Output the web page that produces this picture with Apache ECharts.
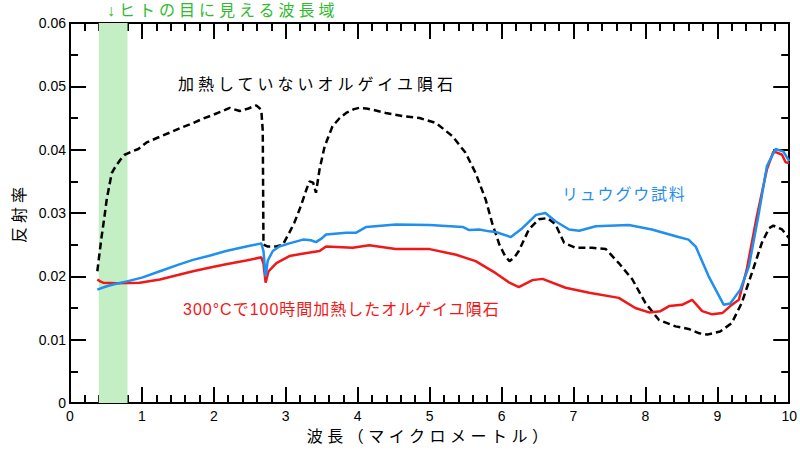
<!DOCTYPE html>
<html>
<head>
<meta charset="utf-8">
<script src="https://cdn.jsdelivr.net/npm/echarts@6/dist/echarts.min.js"></script>
<style>
html,body{margin:0;padding:0;background:#fff;}
#chart{width:800px;height:450px;}
</style>
</head>
<body>
<div id="chart"></div>
<script>
// ---- data ----
const unheatedWavelength = [0.38,0.41,0.44,0.48,0.51,0.55,0.58,0.62,0.65,0.70,0.76,0.82,0.86,0.95,1.06,1.20,1.39,1.55,1.71,1.85,1.99,2.10,2.22,2.36,2.48,2.59,2.66,2.68,2.69,2.75,2.87,2.96,3.05,3.12,3.19,3.24,3.29,3.33,3.38,3.42,3.47,3.54,3.65,3.75,3.84,3.95,4.02,4.12,4.21,4.39,4.62,4.86,5.09,5.32,5.50,5.64,5.78,5.87,5.97,6.05,6.11,6.18,6.24,6.38,6.52,6.64,6.75,6.87,7.03,7.26,7.45,7.63,7.82,8.00,8.19,8.42,8.60,8.75,8.86,9.04,9.20,9.34,9.48,9.62,9.72,9.78,9.90,10.0];
const unheatedReflectance = [0.0208,0.0236,0.0263,0.0295,0.0321,0.0345,0.0363,0.0371,0.0376,0.0384,0.0392,0.0395,0.0397,0.0401,0.0411,0.0418,0.0427,0.0435,0.0442,0.0449,0.0455,0.0460,0.0466,0.0461,0.0465,0.0470,0.0463,0.0430,0.0250,0.0247,0.0247,0.0250,0.0269,0.0285,0.0305,0.0321,0.0338,0.0350,0.0348,0.0332,0.0369,0.0405,0.0437,0.0450,0.0458,0.0464,0.0466,0.0465,0.0463,0.0458,0.0453,0.0450,0.0442,0.0421,0.0395,0.0363,0.0321,0.0284,0.0250,0.0232,0.0224,0.0230,0.0240,0.0274,0.0290,0.0292,0.0282,0.0253,0.0245,0.0245,0.0243,0.0221,0.0195,0.0158,0.0131,0.0121,0.0117,0.0110,0.0108,0.0113,0.0126,0.0158,0.0205,0.0253,0.0276,0.0280,0.0274,0.0260];

const ryuguWavelength = [0.38,0.50,0.60,0.79,1.00,1.25,1.50,1.71,1.95,2.17,2.45,2.66,2.69,2.72,2.75,2.82,2.91,3.05,3.24,3.35,3.42,3.50,3.56,3.84,3.98,4.12,4.53,5.00,5.46,5.55,5.69,5.83,5.92,6.13,6.29,6.48,6.61,6.75,6.94,7.08,7.31,7.77,8.09,8.46,8.60,8.70,8.88,9.09,9.18,9.32,9.44,9.57,9.69,9.81,9.92,10.0];
const ryuguReflectance = [0.0179,0.0184,0.0187,0.0192,0.0198,0.0208,0.0218,0.0226,0.0233,0.0240,0.0247,0.0252,0.0240,0.0200,0.0225,0.0240,0.0247,0.0252,0.0258,0.0257,0.0254,0.0260,0.0266,0.0269,0.0269,0.0278,0.0282,0.0281,0.0278,0.0273,0.0274,0.0271,0.0270,0.0262,0.0276,0.0297,0.0300,0.0287,0.0274,0.0272,0.0279,0.0281,0.0274,0.0262,0.0258,0.0247,0.0200,0.0155,0.0157,0.0179,0.0216,0.0295,0.0374,0.0401,0.0397,0.0382];

const heatedWavelength = [0.38,0.42,0.46,0.65,0.97,1.25,1.50,1.71,1.95,2.17,2.45,2.66,2.69,2.72,2.76,2.87,3.05,3.25,3.47,3.56,3.93,4.16,4.53,5.00,5.37,5.64,5.92,6.11,6.24,6.43,6.57,6.89,7.22,7.63,7.86,8.05,8.21,8.33,8.51,8.65,8.79,8.93,9.07,9.18,9.30,9.41,9.55,9.69,9.78,9.84,9.90,9.95,10.0];
const heatedReflectance = [0.0195,0.0192,0.0190,0.0189,0.0190,0.0195,0.0202,0.0208,0.0214,0.0219,0.0225,0.0230,0.0220,0.0190,0.0208,0.0221,0.0232,0.0236,0.0240,0.0247,0.0245,0.0249,0.0243,0.0243,0.0234,0.0224,0.0205,0.0190,0.0183,0.0194,0.0196,0.0182,0.0174,0.0166,0.0150,0.0143,0.0145,0.0153,0.0155,0.0163,0.0145,0.0140,0.0142,0.0153,0.0163,0.0211,0.0295,0.0369,0.0397,0.0395,0.0392,0.0380,0.0379];

const visibleBand = [0.4, 0.8];
const xTicks = [0,1,2,3,4,5,6,7,8,9,10];
const yTicks = [0,0.01,0.02,0.03,0.04,0.05,0.06];

const labelUnheated = '加熱していないオルゲイユ隕石';
const labelRyugu = 'リュウグウ試料';
const labelHeated = '300°Cで100時間加熱したオルゲイユ隕石';
const labelVisible = '↓ヒトの目に見える波長域';
const xName = '波長（マイクロメートル）';
const yName = '反射率';

// ---- chart ----
const zip = (xs, ys) => xs.map((x, i) => [x, ys[i]]);
const FONT = "'Liberation Sans', 'Noto Sans CJK JP', sans-serif";
const chart = echarts.init(document.getElementById('chart'), null, {renderer: 'svg'});

const axisCommon = {
  axisLine: {show: true, onZero: false, lineStyle: {color: '#000', width: 2}},
  axisTick: {show: true, inside: true, length: 16, lineStyle: {color: '#000', width: 2}},
  minorTick: {show: true, length: 8, lineStyle: {color: '#000', width: 2}},
  splitLine: {show: false}
};

chart.setOption({
  animation: false,
  backgroundColor: '#fff',
  textStyle: {fontFamily: FONT},
  grid: {left: 70, right: 9, top: 23, bottom: 47, containLabel: false},
  xAxis: [
    Object.assign({}, axisCommon, {
      type: 'value', min: xTicks[0], max: xTicks[xTicks.length - 1], interval: 1, position: 'bottom',
      minorTick: Object.assign({}, axisCommon.minorTick, {splitNumber: 5}),
      axisLabel: {color: '#000', fontSize: 14, margin: 6, fontFamily: FONT},
      name: xName, nameLocation: 'middle', nameGap: 25,
      nameTextStyle: {color: '#000', fontSize: 16, fontFamily: FONT}
    }),
    Object.assign({}, axisCommon, {
      type: 'value', min: xTicks[0], max: xTicks[xTicks.length - 1], interval: 1, position: 'top',
      minorTick: Object.assign({}, axisCommon.minorTick, {splitNumber: 5}),
      axisLabel: {show: false}
    })
  ],
  yAxis: [
    Object.assign({}, axisCommon, {
      type: 'value', min: yTicks[0], max: yTicks[yTicks.length - 1], interval: 0.01, position: 'left',
      minorTick: Object.assign({}, axisCommon.minorTick, {splitNumber: 2}),
      axisLabel: {color: '#000', fontSize: 14, margin: 4, fontFamily: FONT,
        formatter: v => (Math.abs(v) < 1e-9 ? '0' : v.toFixed(2))},
      name: yName, nameLocation: 'middle', nameGap: 43, nameRotate: 90,
      nameTextStyle: {color: '#000', fontSize: 16, fontFamily: FONT}
    }),
    Object.assign({}, axisCommon, {
      type: 'value', min: yTicks[0], max: yTicks[yTicks.length - 1], interval: 0.01, position: 'right',
      minorTick: Object.assign({}, axisCommon.minorTick, {splitNumber: 2}),
      axisLabel: {show: false}
    })
  ],
  series: [
    {
      name: labelUnheated, type: 'line', xAxisIndex: 0, yAxisIndex: 0,
      data: zip(unheatedWavelength, unheatedReflectance),
      showSymbol: false, z: 3,
      lineStyle: {color: '#000', width: 2.5, type: [7, 4]},
      markArea: {
        silent: true,
        itemStyle: {color: '#c4eec4'},
        data: [[{xAxis: visibleBand[0]}, {xAxis: visibleBand[1]}]]
      }
    },
    {
      name: labelHeated, type: 'line', xAxisIndex: 0, yAxisIndex: 0,
      data: zip(heatedWavelength, heatedReflectance),
      showSymbol: false, z: 4,
      lineStyle: {color: '#f01818', width: 2.5}
    },
    {
      name: labelRyugu, type: 'line', xAxisIndex: 0, yAxisIndex: 0,
      data: zip(ryuguWavelength, ryuguReflectance),
      showSymbol: false, z: 5,
      lineStyle: {color: '#1f8ff0', width: 2.5}
    }
  ],
  graphic: [
    {type: 'text', left: 107, top: 2, style: {text: labelVisible, fill: '#2fbb2f', font: "16px " + FONT}},
    {type: 'text', left: 178, top: 76, style: {text: labelUnheated, fill: '#000', font: "16px " + FONT}},
    {type: 'text', left: 562, top: 186, style: {text: labelRyugu, fill: '#1f8ff0', font: "16px " + FONT}},
    {type: 'text', left: 183, top: 301, style: {text: labelHeated, fill: '#f01818', font: "16px " + FONT}}
  ]
});

// letter spacing of the wide-set Japanese labels
const spacing = {};
spacing[labelVisible] = 4;
spacing[labelUnheated] = 4;
spacing[labelRyugu] = 1.8;
spacing[labelHeated] = 1;
spacing[xName] = 4.5;
spacing[yName] = 4;
document.querySelectorAll('#chart svg text').forEach(t => {
  const s = spacing[t.textContent];
  if (s != null) t.style.letterSpacing = s + 'px';
});
</script>
</body>
</html>
